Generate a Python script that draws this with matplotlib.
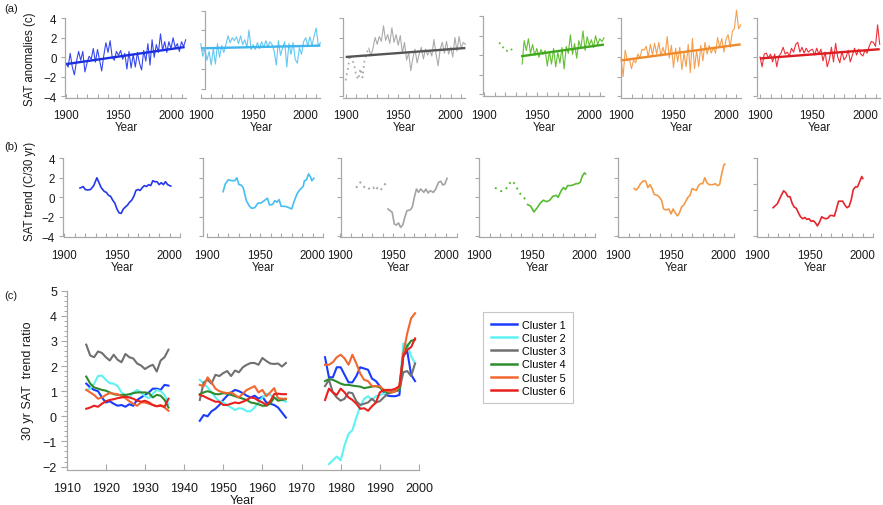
import numpy as np
import matplotlib
matplotlib.use("Agg")
import matplotlib.pyplot as plt
from matplotlib.lines import Line2D

plt.rcParams['font.family'] = ['Liberation Sans', 'DejaVu Sans']

# ---------------- DATA ----------------
CLUSTERS = ["Cluster 1", "Cluster 2", "Cluster 3", "Cluster 4", "Cluster 5", "Cluster 6"]

# (a) SAT anomalies, read every ~2 years (last point 2014)
YEARS_A = list(range(1900, 2013, 2)) + [2014]
nan = np.nan
a_c1 = [-0.6, -1.0, 0.4, -1.0, -1.8, -0.4, 0.6, -0.3, 0.6, -1.5, -0.6, 0.1, -0.2, 0.9, -0.5, 0.8, -0.3, -1.4,
        0.2, 1.5, 0.5, 1.7, 0.0, -0.3, 0.6, 0.2, 0.7, -0.2, 0.4, -1.2, 0.6, -1.1, 0.3, -1.0, 0.5, -0.6, -1.3,
        0.7, -0.4, 1.4, -0.8, 1.8, 0.0, 1.3, 0.5, 2.4, 0.7, 1.6, 0.5, 1.6, 0.9, 2.0, 1.0, 1.4, 0.6, 1.6, 1.1, 1.8]
a_c2 = [1.4, 0.1, 0.8, -0.3, 0.6, -0.8, 0.9, -0.7, 1.4, 0.0, 1.2, 0.5, 1.3, 2.2, 1.5, 2.0, 1.7, 2.1, 1.4, 2.2,
        1.3, 1.8, 1.0, 2.8, 0.8, 1.3, 0.8, 1.5, 0.9, 1.6, 1.0, 1.7, 1.1, 1.6, 1.3, 0.6, -0.8, 1.7, 0.2, 1.0,
        1.6, -1.0, 1.4, 0.3, 1.5, -0.2, -0.6, 1.0, 0.3, 1.6, 2.0, 1.2, 2.1, 1.2, 2.2, 3.0, 1.2, 1.5]
a_c3 = [-2.4, -1.3, 0.2, -0.2, -0.8, -1.9, -2.3, -1.2, -2.1, -0.3, 0.4, 0.9, 0.1, 0.9, 2.0, 1.3, 2.1, 1.6,
        3.2, 1.7, 2.3, 1.4, 3.0, 1.5, 2.3, 1.2, 2.2, 0.4, 1.5, -0.3, 0.4, -1.4, -0.1, 0.8, -0.6, 0.3, 1.0,
        -0.2, 0.8, 0.2, 0.7, 0.1, 1.8, 0.3, -0.9, 0.8, 1.5, 0.4, 1.6, 0.3, 1.0, 0.0, 2.0, 0.6, 2.1, 0.9, 1.5, 1.3]
a_c4 = [nan, nan, nan, nan, nan, nan, nan, 1.3, 1.1, 0.8, 0.5, 0.45, 0.4, 0.6, 0.85, nan, nan, nan,
        -0.9, 1.5, 0.5, 1.7, 0.2, 1.1, 0.0, 0.7, -0.2, 0.6, 0.1, 0.5, -1.1, 0.4, -0.9, 0.7, -1.2, 0.3, -0.8,
        0.8, -1.4, 0.9, 0.2, 2.1, 0.1, 1.2, -0.3, 1.5, 0.7, 2.5, 0.5, 1.9, 1.0, 1.6, 0.8, 2.0, 1.1, 1.7, 1.4, 1.8]
a_c5 = [-0.2, -2.0, 0.7, -0.4, -0.2, -1.2, -0.3, -0.6, 0.3, -0.1, 0.8, 0.7, 1.1, 0.0, 1.3, 0.2, 1.4, 0.3,
        1.5, 0.1, 1.0, 0.2, 2.1, -0.1, 1.2, -1.1, 0.9, -0.5, 1.0, -1.3, 0.4, -1.0, 1.3, -1.6, 1.9, -1.2, 0.7,
        -1.0, 1.2, -0.4, 1.5, 0.3, 1.2, 0.4, 1.0, 0.4, 2.0, 1.0, 1.9, 0.5, 1.8, 2.3, 1.0, 2.6, 2.9, 4.8, 2.9, 3.3]
a_c6 = [0.0, -1.0, 0.3, 0.4, -0.1, 0.3, -0.5, 0.3, -1.0, 0.1, 0.4, 1.0, 0.3, 0.5, 0.1, 0.9, 0.5, 1.3, 1.5,
        0.5, 1.0, 0.4, 0.9, 0.5, 0.7, 0.8, 0.2, 0.9, 0.3, 0.8, -0.4, 0.5, -1.0, -0.3, 1.0, -0.5, 1.4, 0.0,
        -0.6, 0.6, -0.3, 0.0, 0.7, -0.5, 0.2, 0.9, 0.2, 0.8, 0.3, 0.1, 0.7, 0.4, 1.1, 1.6, 1.5, 1.1, 3.3, 1.3]
A_VALUES = [a_c1, a_c2, a_c3, a_c4, a_c5, a_c6]
A_DOTTED_UNTIL = [None, None, 1922, 1930, None, None]
TREND_YEAR0 = [1900, 1900, 1900, 1935, 1900, 1900]
TREND_YEAR1 = [2013, 2014, 2014, 2014, 2014, 2014]
TREND_VAL0 = [-0.7, 0.92, 0.0, -0.1, -0.35, -0.15]
TREND_VAL1 = [1.05, 1.2, 0.92, 1.1, 1.3, 0.8]

# (b) 30-yr SAT trend
b_c1_yr = [1915, 1918, 1920, 1922, 1925, 1928, 1931, 1933, 1935, 1938, 1940, 1942, 1944, 1946, 1948, 1950, 1952,
           1954, 1956, 1958, 1960, 1962, 1964, 1966, 1968, 1970, 1972, 1974, 1976, 1978, 1980, 1982, 1984, 1986,
           1988, 1990, 1992, 1994, 1996, 1998, 2001]
b_c1 = [0.95, 1.1, 0.8, 0.75, 0.8, 1.2, 2.0, 1.5, 1.0, 0.6, 0.5, 0.2, 0.1, -0.3, -0.6, -1.2, -1.6, -1.65, -1.2,
        -1.0, -0.8, -0.5, -0.3, 0.1, 0.7, 0.8, 0.7, 1.0, 1.2, 1.1, 1.3, 1.2, 1.7, 1.6, 1.6, 1.3, 1.5, 1.3, 1.6, 1.3, 1.15]
b_c2_yr = [1915, 1917, 1920, 1923, 1926, 1928, 1930, 1932, 1934, 1937, 1940, 1942, 1945, 1948, 1951, 1954, 1957,
           1959, 1962, 1964, 1966, 1968, 1970, 1973, 1976, 1980, 1982, 1985, 1987, 1991, 1992, 1994, 1996, 1998,
           1999, 2001]
b_c2 = [0.58, 1.37, 1.8, 1.7, 1.7, 2.0, 1.3, 1.26, 1.0, -0.34, -0.92, -1.13, -1.06, -0.6, -0.58, -0.34, -0.1,
        -0.79, -0.72, -0.34, -0.5, -0.24, -0.92, -0.92, -1.0, -1.2, -0.5, 0.34, 0.68, 1.13, 1.7, 1.78, 2.4, 2.05,
        1.7, 1.95]
b_c3_dot_yr = [1915, 1917, 1919, 1921, 1924, 1926, 1928, 1931, 1933, 1935, 1938, 1940, 1943]
b_c3_dot = [0.96, 1.44, 1.54, 1.2, 0.92, 1.03, 0.79, 1.03, 0.68, 0.96, 0.68, 1.1, 1.44]
b_c3_yr = [1945, 1949, 1951, 1953, 1955, 1957, 1959, 1961, 1963, 1966, 1968, 1970, 1972, 1974, 1976, 1979, 1981,
           1983, 1985, 1988, 1990, 1993, 1995, 1997, 1999, 2001]
b_c3 = [-1.2, -1.54, -2.74, -2.84, -2.63, -3.08, -2.84, -2.05, -1.37, -1.3, -1.03, 0.0, 0.85, 0.51, 0.85, 0.51,
        0.85, 0.44, 0.68, 0.51, 0.79, 1.54, 1.64, 1.26, 1.37, 1.95]
b_c4_dot_yr = [1915, 1918, 1921, 1924, 1927, 1930, 1932, 1935, 1938, 1941, 1944]
b_c4_dot = [0.96, 0.85, 0.62, 0.75, 1.03, 1.6, 1.67, 1.16, 0.51, 0.1, -0.2]
b_c4_yr = [1946, 1949, 1952, 1955, 1958, 1961, 1964, 1967, 1970, 1973, 1975, 1978, 1980, 1982, 1984, 1987, 1990,
           1992, 1994, 1996, 1998, 2000, 2001]
b_c4 = [-0.75, -0.9, -1.5, -1.1, -0.6, -0.3, -0.45, -0.3, 0.1, 0.2, 0.0, 0.7, 1.0, 0.8, 1.2, 1.2, 1.3, 1.4, 1.4,
        1.55, 2.2, 2.5, 2.4]
b_c5_yr = [1915, 1917, 1919, 1921, 1924, 1926, 1928, 1930, 1932, 1934, 1937, 1939, 1941, 1943, 1945, 1948, 1950,
           1952, 1954, 1956, 1958, 1960, 1962, 1964, 1966, 1968, 1970, 1972, 1974, 1976, 1978, 1980, 1982, 1984,
           1986, 1988, 1990, 1992, 1994, 1996, 1998, 2000, 2001]
b_c5 = [0.9, 0.75, 1.0, 1.4, 1.7, 1.65, 1.0, 1.3, 0.9, 0.3, 0.2, 0.0, -0.3, -1.2, -1.3, -1.2, -1.7, -1.2, -1.6,
        -1.9, -1.6, -1.0, -0.8, -0.4, 0.0, 0.2, 0.9, 0.8, 0.7, 1.2, 1.4, 1.4, 2.0, 1.5, 1.3, 1.3, 1.3, 1.4, 1.2,
        1.3, 2.4, 3.3, 3.4]
b_c6_yr = list(range(1915, 2000, 2)) + [2000]
b_c6 = [-0.8, -0.65, -0.5, -0.15, 0.2, 0.5, 0.35, 0.05, 0.05, -0.45, -0.75, -0.85, -1.2, -1.5, -1.65, -1.55,
        -1.7, -1.65, -1.85, -1.8, -1.95, -2.2, -1.9, -1.5, -1.6, -1.65, -1.6, -1.4, -1.4, -1.45, -0.9, -0.3, -0.3,
        -0.3, -0.6, -0.8, -0.7, -0.2, 0.6, 0.8, 0.8, 1.2, 1.6, 1.45]
B_SOLID = [(b_c1_yr, b_c1), (b_c2_yr, b_c2), (b_c3_yr, b_c3), (b_c4_yr, b_c4), (b_c5_yr, b_c5), (b_c6_yr, b_c6)]
B_DOTTED = [None, None, (b_c3_dot_yr, b_c3_dot), (b_c4_dot_yr, b_c4_dot), None, None]

# (c) 30-yr SAT trend ratio, three windows
YEARS_C = [list(range(1915, 1937)), list(range(1944, 1967)), list(range(1976, 2000))]
c_c1 = [[1.3, 1.15, 1.05, 1.0, 0.75, 0.55, 0.6, 0.5, 0.42, 0.45, 0.38, 0.48, 0.42, 0.65, 0.75, 0.85, 0.95, 1.1,
         1.1, 1.05, 1.25, 1.22],
        [-0.18, 0.05, 0.0, 0.2, 0.3, 0.45, 0.65, 0.82, 0.95, 1.05, 1.0, 0.92, 0.82, 0.75, 0.82, 0.7, 0.78, 0.55,
         0.5, 0.45, 0.35, 0.15, -0.05],
        [2.35, 1.55, 1.55, 1.95, 1.95, 1.65, 1.35, 1.35, 1.6, 1.95, 1.9, 1.85, 1.5, 1.4, 1.2, 0.95, 0.82, 0.8, 0.8,
         0.85, 2.4, 2.6, 1.65, 1.4]]
c_c2 = [[1.05, 1.1, 1.3, 1.6, 1.62, 1.45, 1.32, 1.3, 1.2, 0.95, 0.85, 0.75, 0.95, 1.05, 0.95, 0.8, 0.72, 0.9,
         1.05, 1.0, 0.85, 0.5],
        [1.45, 1.3, 1.15, 0.95, 0.75, 0.6, 0.55, 0.45, 0.35, 0.25, 0.32, 0.3, 0.2, 0.2, 0.35, 0.55, 0.75, 0.9,
         0.85, 0.75, 0.7, 0.65, 0.58],
        [nan, -1.9, -1.75, -1.6, -1.75, -1.15, -0.7, -0.55, -0.05, 0.4, 0.7, 0.8, 0.65, 0.8, 0.85, 0.9, 0.95, 1.0,
         1.05, 1.05, 2.9, 2.85, 2.4, 2.1]]
c_c3 = [[2.85, 2.42, 2.35, 2.58, 2.52, 2.35, 2.22, 2.45, 2.25, 2.15, 2.48, 2.35, 2.3, 2.1, 2.02, 1.88, 1.98,
         2.05, 1.78, 2.22, 2.35, 2.65],
        [0.65, 1.35, 1.45, 1.3, 1.65, 1.6, 1.72, 1.8, 1.6, 1.82, 1.75, 1.95, 2.05, 2.12, 2.12, 2.05, 2.32, 2.2,
         2.1, 2.08, 2.1, 1.98, 2.12],
        [1.2, 1.45, 0.95, 0.75, 0.62, 0.7, 0.95, 0.92, 0.6, 0.45, 0.5, 0.55, 0.7, 0.55, 0.6, 0.75, 0.9, 0.95, 1.0,
         1.05, 1.75, 1.8, 1.6, 2.1]]
c_c4 = [[1.58, 1.3, 1.15, 1.1, 1.05, 1.02, 0.95, 0.88, 0.85, 0.85, 0.85, 0.88, 0.92, 0.95, 0.95, 0.95, 0.92,
         0.75, 0.85, 0.82, 0.65, 0.35],
        [0.88, 0.95, 1.0, 0.95, 0.88, 0.88, 0.92, 0.9, 0.85, 0.8, 0.75, 0.7, 0.65, 0.55, 0.52, 0.48, 0.42, 0.42,
         0.5, 0.75, 0.62, 0.65, 0.68],
        [1.4, 1.48, 1.45, 1.38, 1.3, 1.25, 1.25, 1.22, 1.2, 1.18, 1.12, 1.15, 1.18, 1.2, 1.15, 1.0, 0.95, 0.95,
         1.0, 1.05, 2.5, 2.8, 3.0, 3.05]]
c_c5 = [[1.05, 0.95, 0.85, 0.7, 0.75, 0.85, 0.92, 0.9, 0.88, 0.8, 0.72, 0.6, 0.5, 0.42, 0.55, 0.55, 0.5, 0.45,
         0.4, 0.45, 0.35, 0.22],
        [1.25, 1.2, 1.55, 1.35, 1.1, 1.0, 0.95, 0.92, 0.95, 0.85, 0.75, 0.9, 1.05, 1.12, 1.2, 0.95, 1.05, 0.8,
         0.95, 1.12, 0.72, 0.7, 0.7],
        [2.05, 2.05, 2.15, 2.35, 2.45, 2.3, 2.05, 2.45, 2.1, 1.7, 1.45, 1.4, 1.2, 1.2, 1.2, 1.05, 1.0, 0.95, 1.0,
         1.2, 2.5, 3.3, 3.9, 4.1]]
c_c6 = [[0.3, 0.35, 0.42, 0.38, 0.5, 0.6, 0.65, 0.68, 0.72, 0.75, 0.78, 0.75, 0.7, 0.62, 0.58, 0.62, 0.55, 0.45,
         0.4, 0.42, 0.38, 0.7],
        [0.85, 0.8, 0.72, 0.65, 0.58, 0.58, 0.45, 0.45, 0.5, 0.55, 0.52, 0.58, 0.65, 0.75, 0.72, 0.62, 0.55, 0.45,
         0.6, 0.88, 0.9, 0.88, 0.88],
        [0.65, 1.1, 0.95, 0.85, 1.1, 0.95, 0.75, 0.65, 0.5, 0.3, 0.32, 0.22, 0.4, 0.55, 0.95, 1.05, 1.05, 1.05,
         1.1, 1.2, 2.4, 2.65, 2.75, 3.1]]
C_VALUES = [c_c1, c_c2, c_c3, c_c4, c_c5, c_c6]

# ---------------- STYLE ----------------
A_DATA_COLORS = ["#3447f0", "#62c8f4", "#ababab", "#62bf34", "#f4a050", "#ec3038"]
A_TREND_COLORS = ["#1b2fe0", "#3fb6ee", "#555555", "#40a81e", "#ee8a2c", "#dc1e22"]
B_COLORS = ["#2438ea", "#45bff2", "#a3a3a3", "#55bd30", "#f29a48", "#e5242c"]
C_COLORS = ["#1a3cff", "#5ef2f2", "#707070", "#2e8b2e", "#f26630", "#e8201e"]
AXCOL = "#a8a8a8"
TXT = "#1a1a1a"

W, H = 883, 506
fig = plt.figure(figsize=(W / 100, H / 100), dpi=100)


def add_ax(xref_px, ppy, xref, xlim, y0_px, ppu, ylim):
    left = xref_px + (xlim[0] - xref) * ppy
    right = xref_px + (xlim[1] - xref) * ppy
    top = y0_px - ylim[1] * ppu
    bottom = y0_px - ylim[0] * ppu
    ax = fig.add_axes([left / W, 1 - bottom / H, (right - left) / W, (bottom - top) / H])
    ax.set_xlim(*xlim)
    ax.set_ylim(*ylim)
    ax.patch.set_alpha(0)
    for s in ("top", "right"):
        ax.spines[s].set_visible(False)
    for s in ("left", "bottom"):
        ax.spines[s].set_color(AXCOL)
        ax.spines[s].set_linewidth(0.9)
    return ax


def small_ticks(ax, x_end, yticks, labeled, xpad):
    xt = list(range(1900, x_end + 1, 10))
    ax.set_xticks(xt)
    ax.set_xticklabels([str(t) if t in (1900, 1950, 2000) else "" for t in xt])
    ax.tick_params(axis="x", direction="in", length=3, color=AXCOL, width=0.8, pad=xpad,
                   labelsize=8.3, labelcolor=TXT)
    ax.set_yticks(yticks)
    if labeled:
        ax.set_yticklabels([("\u2212" if v < 0 else "") + str(abs(int(round(v)))) for v in yticks])
    else:
        ax.set_yticklabels([])
    ax.tick_params(axis="y", direction="out", length=3, color=AXCOL, width=0.8, pad=3,
                   labelsize=8.3, labelcolor=TXT)
    ax.set_xlabel("Year", fontsize=8.3, color=TXT, labelpad=0)


# ---- row (a)
X1900_A = [66, 200.7, 345.7, 484.3, 621, 760]
XSTART_A = [1899, 1900, 1897, 1899, 1900, 1897]
SPINE_A = [1899, 1904, 1897, 1899, 1900, 1897]
Y0_A = [58.3, 58.3, 58.0, 56.3, 58.0, 58.0]
XPAD_A = [8, 8, 8, 9.3, 8, 8]
YOFF_A = [0, 0.8, 0, 0, 0, 0]
years_a = np.array(YEARS_A, float)
for i in range(6):
    ax = add_ax(X1900_A[i], 1.05, 1900, (XSTART_A[i], 2015.5), Y0_A[i], 9.75, (-4.2, 5.0))
    ax.spines["left"].set_position(("data", SPINE_A[i]))
    ax.spines["left"].set_bounds(-4 + YOFF_A[i], 4 + YOFF_A[i])
    ax.spines["bottom"].set_bounds(XSTART_A[i], 2014)
    small_ticks(ax, 2010, [v + YOFF_A[i] for v in (-4, -2, 0, 2, 4)], i == 0, XPAD_A[i])
    vals = np.array(A_VALUES[i], float)
    split = A_DOTTED_UNTIL[i]
    if split is None:
        ax.plot(years_a, vals, color=A_DATA_COLORS[i], lw=0.8, clip_on=False)
    else:
        m1 = years_a <= split
        m2 = years_a >= split
        ax.plot(years_a[m1], vals[m1], color=A_DATA_COLORS[i], lw=1.3, ls=(0, (1, 2)), clip_on=False)
        ax.plot(years_a[m2], vals[m2], color=A_DATA_COLORS[i], lw=0.8, clip_on=False)
    ax.plot([TREND_YEAR0[i], TREND_YEAR1[i]], [TREND_VAL0[i], TREND_VAL1[i]],
            color=A_TREND_COLORS[i], lw=1.7, solid_capstyle="butt")

# ---- row (b)
X1900_B = [64.2, 207.3, 340.5, 479, 618.3, 757.3]
XSTART_B = [1899, 1895.7, 1900, 1900, 1900, 1900]
for i in range(6):
    if i == 5:
        ppu, ylim, yt = 13.0, (-3.08, 3.0), [-3, -1, 1, 3]
    else:
        ppu, ylim, yt = 9.75, (-4.1, 4.0), [-4, -2, 0, 2, 4]
    ax = add_ax(X1900_B[i], 1.055, 1900, (XSTART_B[i], 2010.5), 198.3, ppu, ylim)
    ax.spines["left"].set_bounds(yt[0], yt[-1])
    ax.spines["bottom"].set_bounds(1900, 2010)
    small_ticks(ax, 2010, yt, i == 0, 8.5)
    yrs, v = B_SOLID[i]
    ax.plot(yrs, v, color=B_COLORS[i], lw=1.2)
    if B_DOTTED[i] is not None:
        dy, dv = B_DOTTED[i]
        ax.plot(dy, dv, color=B_COLORS[i], lw=1.4, ls=(0, (1, 2.2)))

# ---- row (c)
axc = add_ax(66.7, 3.914, 1910, (1910, 2000), 417.3, 25.14, (-2.12, 5.0))
axc.spines["left"].set_bounds(-2, 5)
axc.set_xticks(range(1910, 2001, 10))
axc.tick_params(axis="x", direction="in", length=4, color=AXCOL, width=0.8, pad=9,
                labelsize=9, labelcolor=TXT)
axc.set_yticks(range(-2, 6))
axc.set_yticklabels([("\u2212" if v < 0 else "") + str(abs(v)) for v in range(-2, 6)])
axc.set_yticks(np.arange(-2, 5.01, 0.2), minor=True)
axc.tick_params(axis="y", which="major", direction="out", length=4, color=AXCOL, width=0.8, pad=3,
                labelsize=9, labelcolor=TXT)
axc.tick_params(axis="y", which="minor", direction="out", length=2, color=AXCOL, width=0.7)
axc.set_xlabel("Year", fontsize=9, color=TXT, labelpad=0)
handles = []
for k in range(6):
    for s in range(3):
        axc.plot(YEARS_C[s], C_VALUES[k][s], color=C_COLORS[k], lw=1.5)
    handles.append(Line2D([], [], color=C_COLORS[k], lw=1.8))

leg = fig.legend(handles, CLUSTERS, loc="upper left", bbox_to_anchor=(483 / W, 1 - 313 / H),
                 frameon=True, fancybox=False, fontsize=7.8, handlelength=2.4, labelspacing=0.3,
                 borderpad=0.7, handletextpad=0.5, borderaxespad=0)
leg.get_frame().set_edgecolor("#b8b8b8")
leg.get_frame().set_linewidth(0.8)

# labels
fig.text(4 / W, 1 - 9 / H, "(a)", fontsize=8, color=TXT, va="center", ha="left")
fig.text(4 / W, 1 - 147 / H, "(b)", fontsize=8, color=TXT, va="center", ha="left")
fig.text(4 / W, 1 - 296 / H, "(c)", fontsize=8, color=TXT, va="center", ha="left")
fig.text(30 / W, 1 - 59 / H, "SAT anomalies (c)", rotation=90, fontsize=8.3, color=TXT,
         va="center", ha="center")
fig.text(30 / W, 1 - 191 / H, "SAT trend (C/30 yr)", rotation=90, fontsize=8.3, color=TXT,
         va="center", ha="center")
fig.text(28 / W, 1 - 381 / H, "30 yr SAT  trend ratio", rotation=90, fontsize=9, color=TXT,
         va="center", ha="center")

fig.savefig("out.png", dpi=100)
